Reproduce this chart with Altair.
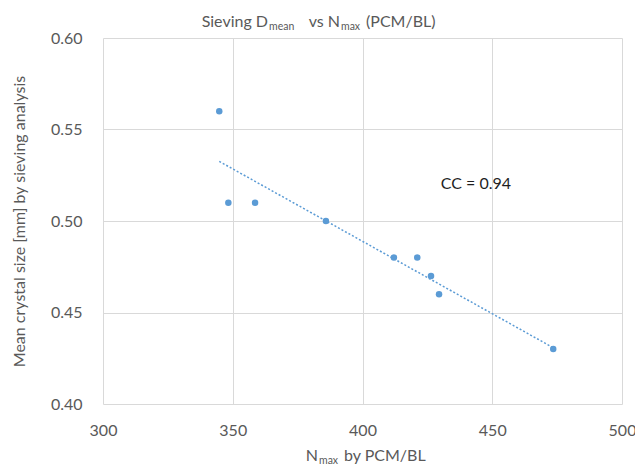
import altair as alt
import pandas as pd

n_max = [344.8, 348.3, 358.6, 385.9, 412.1, 421.1, 426.4, 429.5, 473.5]
d_mean = [0.56, 0.51, 0.51, 0.50, 0.48, 0.48, 0.47, 0.46, 0.43]
x_ticks = [300, 350, 400, 450, 500]
y_ticks = [0.40, 0.45, 0.50, 0.55, 0.60]
note_text = ["CC = 0.94"]
note_x = [430.2]
note_y = [0.520]

df = pd.DataFrame({"n": n_max, "d": d_mean})
note = pd.DataFrame({"x": note_x, "y": note_y, "t": note_text})

FONT = "Lato"
GREY = "#595959"
BLUE = "#5B9BD5"

x_enc = alt.X("n:Q", scale=alt.Scale(domain=[300, 500], nice=False, zero=False),
              axis=alt.Axis(values=x_ticks, title="", format="d", labelFlush=False))
y_enc = alt.Y("d:Q", scale=alt.Scale(domain=[0.40, 0.60], nice=False, zero=False),
              axis=alt.Axis(values=y_ticks, title="Mean crystal size [mm] by sieving analysis",
                            format=".2f", labelFlush=False))

points = alt.Chart(df).mark_circle(size=42, color=BLUE, opacity=1).encode(x=x_enc, y=y_enc)

trend = alt.Chart(df).transform_regression("n", "d", method="linear").mark_line(
    color=BLUE, strokeDash=[2, 2], strokeWidth=1.5
).encode(x="n:Q", y="d:Q")

label = alt.Chart(note).mark_text(
    align="left", baseline="middle", font=FONT, fontSize=16, color="#1f1f1f"
).encode(x="x:Q", y="y:Q", text="t:N")


def piece(txt, px, py, size, align):
    return alt.Chart(note).mark_text(
        text=txt, align=align, baseline="alphabetic", font=FONT, fontSize=size, color=GREY
    ).encode(x=alt.value(px), y=alt.value(py))


# chart title with subscripts
title_parts = [
    piece("Sieving D", 165, -11.5, 16, "right"),
    piece("mean", 166, -8.5, 10.5, "left"),
    piece("vs N", 237, -11.5, 16, "right"),
    piece("max", 238, -8.5, 10.5, "left"),
    piece("(PCM/BL)", 263, -11.5, 16, "left"),
]
# x axis title with subscript
xtitle_parts = [
    piece("N", 215, 423, 16, "right"),
    piece("max", 216, 425.5, 10.5, "left"),
    piece("by PCM/BL", 241, 423, 16, "left"),
]

chart = alt.layer(trend, points, label, *title_parts, *xtitle_parts).properties(
    width=519, height=366,
    autosize=alt.AutoSizeParams(type="none"),
    padding={"left": 103, "top": 38, "right": 13, "bottom": 61},
).configure_view(stroke=None).configure_axis(
    domain=False, ticks=False, grid=True, gridColor="#D9D9D9", gridWidth=1,
    labelFont=FONT, labelFontSize=16, labelColor=GREY,
    titleFont=FONT, titleFontSize=16, titleColor=GREY, titleFontWeight="normal",
).configure_axisY(labelPadding=21, titlePadding=23).configure_axisX(labelPadding=18)

chart.save("out.html", embed_options={"renderer": "svg", "actions": False})
